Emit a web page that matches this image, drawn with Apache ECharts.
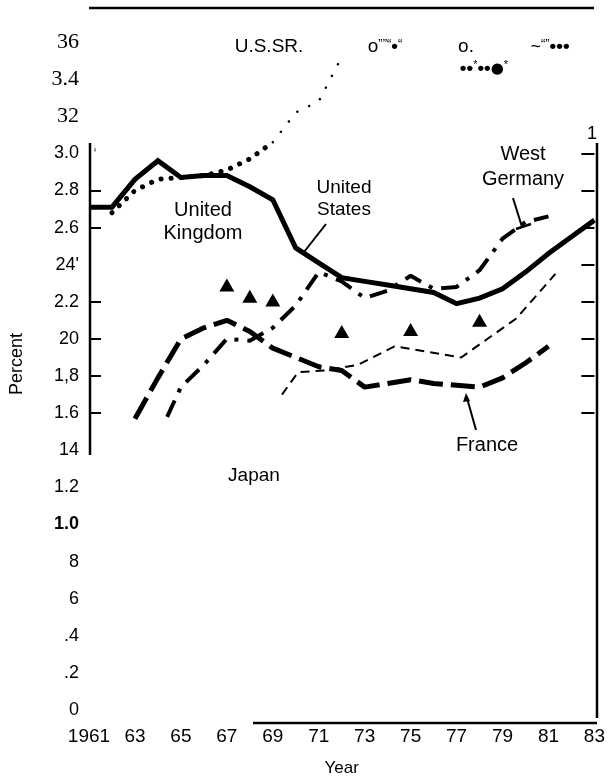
<!DOCTYPE html>
<html>
<head>
<meta charset="utf-8">
<script src="https://cdn.jsdelivr.net/npm/echarts@6/dist/echarts.min.js"></script>
<style>
html, body { margin: 0; padding: 0; background: #fff; }
#main { width: 608px; height: 782px; }
</style>
</head>
<body>
<div id="main"></div>
<script>
// data (percent)
var years = [1961, 1962, 1963, 1964, 1965, 1966, 1967, 1968, 1969, 1970, 1971, 1972,
             1973, 1974, 1975, 1976, 1977, 1978, 1979, 1980, 1981, 1982, 1983];
var usValues = [2.71, 2.71, 2.86, 2.96, 2.87, 2.88, 2.88, 2.82, 2.75, 2.49, 2.41, 2.33,
                2.31, 2.29, 2.27, 2.25, 2.19, 2.22, 2.27, 2.36, 2.46, 2.55, 2.64];

// USSR: heavy dots up to 1969, faint dots after that (scan quality)
var ussrYears = [1962, 1963, 1964, 1965, 1966, 1967, 1968, 1969];
var ussrValues = [2.68, 2.80, 2.86, 2.87, 2.88, 2.91, 2.97, 3.06];
var ussrFaintYears = [1969, 1970, 1971, 1972];
var ussrFaintValues = [3.06, 3.22, 3.28, 3.52];

var germanyYears = [1964.4, 1965, 1966, 1967, 1968, 1969, 1970, 1971, 1972, 1973,
                    1974, 1975, 1976, 1977, 1978, 1979, 1980, 1981];
var germanyValues = [1.58, 1.74, 1.86, 2.00, 1.99, 2.06, 2.18, 2.36, 2.31, 2.22,
                     2.26, 2.34, 2.27, 2.28, 2.37, 2.54, 2.63, 2.66];

var franceYears = [1963, 1964, 1965, 1966, 1967, 1968, 1969, 1970, 1971, 1972,
                   1973, 1974, 1975, 1976, 1977, 1978, 1979, 1980, 1981];
var franceValues = [1.57, 1.79, 2.00, 2.06, 2.10, 2.04, 1.95, 1.90, 1.85, 1.83,
                    1.74, 1.76, 1.78, 1.76, 1.75, 1.74, 1.79, 1.87, 1.96];

var japanYears = [1969.4, 1970.1, 1971.3, 1972.7, 1974.3, 1977.2, 1979.6, 1981.3];
var japanValues = [1.70, 1.82, 1.83, 1.86, 1.96, 1.90, 2.11, 2.35];

var ukYears = [1967, 1968, 1969, 1972, 1975, 1978];
var ukValues = [2.29, 2.23, 2.21, 2.04, 2.05, 2.10];

// triangles that came out of the scan as the letter "A"
var ukGlyphYears = [1964, 1966.7];
var ukGlyphValues = [2.29, 2.10];

var xTickValues = [1961, 1963, 1965, 1967, 1969, 1971, 1973, 1975, 1977, 1979, 1981, 1983];
var xTickLabels = ['1961', '63', '65', '67', '69', '71', '73', '75', '77', '79', '81', '83'];
var yTickLabels = ['0', '.2', '.4', '6', '8', '1.0', '1.2', '14', '1.6', '1,8', '20',
                   '2.2', '24\'', '2.6', '2.8', '3.0', '32', '3.4', '36'];
var leftTickValues = [1.6, 1.8, 2.0, 2.2, 2.6, 2.8];
var rightTickValues = [1.6, 1.8, 2.0, 2.2, 2.4, 2.6, 2.8, 3.0];

var FONT = '"Liberation Sans", Arial, sans-serif';

function pairs(xs, ys) {
    return xs.map(function (x, i) { return [x, ys[i]]; });
}

function txt(text, x, y, size, extra) {
    var style = { text: text, x: x, y: y, align: 'center', verticalAlign: 'middle', font: size + 'px ' + FONT, fill: '#000' };
    for (var k in extra) style[k] = extra[k];
    return { type: 'text', style: style };
}

function rule(x1, y1, x2, y2, w) {
    return { type: 'line', shape: { x1: x1, y1: y1, x2: x2, y2: y2 }, style: { stroke: '#000', lineWidth: w } };
}

var dom = document.getElementById('main');
var myChart = echarts.init(dom);

var glyphRich = {
    o: { font: '19px ' + FONT, fill: '#000' },
    q: { font: '13px ' + FONT, fill: '#000', verticalAlign: 'top' },
    d: { font: 'bold 19px ' + FONT, fill: '#000' },
    D: { font: '15px "DejaVu Sans", sans-serif', fill: '#000' },
    s: { font: '11px ' + FONT, fill: '#000', verticalAlign: 'top' }
};

var option = {
    backgroundColor: '#ffffff',
    animation: false,
    grid: { left: 89, right: 11, top: 42, bottom: 65 },
    xAxis: {
        type: 'value',
        min: 1961,
        max: 1983,
        axisLine: { show: false },
        axisTick: { show: false },
        splitLine: { show: false },
        axisLabel: {
            customValues: xTickValues,
            formatter: function (v) { return xTickLabels[xTickValues.indexOf(v)]; },
            color: '#000',
            fontSize: 19,
            fontFamily: FONT,
            margin: 17
        },
        name: 'Year',
        nameLocation: 'middle',
        nameGap: 50,
        nameTextStyle: { color: '#000', fontSize: 17, fontFamily: FONT }
    },
    yAxis: [
        {
            type: 'value',
            min: 0,
            max: 3.6,
            interval: 0.2,
            position: 'left',
            axisLine: { show: false },
            splitLine: { show: false },
            axisTick: {
                show: true,
                inside: true,
                length: 12,
                customValues: leftTickValues,
                lineStyle: { color: '#000', width: 2 }
            },
            axisLabel: {
                color: '#000',
                fontSize: 18,
                fontFamily: FONT,
                margin: 10,
                formatter: function (v) {
                    var s = yTickLabels[Math.round(v / 0.2)];
                    if (s === '36' || s === '3.4' || s === '32') return '{serif|' + s + '}';
                    if (s === '1.0') return '{bold|' + s + '}';
                    return s;
                },
                rich: {
                    serif: { fontFamily: '"Liberation Serif", "DejaVu Serif", serif', fontSize: 22, color: '#000' },
                    bold: { fontFamily: FONT, fontSize: 18, fontWeight: 'bold', color: '#000' }
                }
            }
        },
        {
            type: 'value',
            min: 0,
            max: 3.6,
            interval: 0.2,
            position: 'right',
            axisLine: { show: false },
            splitLine: { show: false },
            axisLabel: { show: false },
            axisTick: {
                show: true,
                inside: true,
                length: 13,
                customValues: rightTickValues,
                lineStyle: { color: '#000', width: 2 }
            }
        }
    ],
    series: [
        {
            name: 'U.S.S.R.',
            type: 'line',
            data: pairs(ussrYears, ussrValues),
            showSymbol: false,
            lineStyle: { color: '#000', width: 5, type: [0.1, 10], cap: 'round' },
            z: 3
        },
        {
            name: 'U.S.S.R. (faint)',
            type: 'line',
            data: pairs(ussrFaintYears, ussrFaintValues),
            showSymbol: false,
            lineStyle: { color: '#000', width: 2.5, type: [0.1, 13], cap: 'round' },
            z: 3
        },
        {
            name: 'United States',
            type: 'line',
            data: pairs(years, usValues),
            showSymbol: false,
            lineStyle: { color: '#000', width: 5, join: 'miter' },
            z: 4
        },
        {
            name: 'West Germany',
            type: 'line',
            data: pairs(germanyYears, germanyValues),
            showSymbol: false,
            lineStyle: { color: '#000', width: 4, type: [18, 9, 4, 9] },
            z: 3
        },
        {
            name: 'France',
            type: 'line',
            data: pairs(franceYears, franceValues),
            showSymbol: false,
            lineStyle: { color: '#000', width: 5, type: [24, 8] },
            z: 3
        },
        {
            name: 'Japan',
            type: 'line',
            data: pairs(japanYears, japanValues),
            showSymbol: false,
            lineStyle: { color: '#000', width: 2, type: [9, 6] },
            z: 3
        },
        {
            name: 'United Kingdom',
            type: 'scatter',
            data: pairs(ukYears, ukValues),
            symbol: 'triangle',
            symbolSize: [15, 13],
            itemStyle: { color: '#000', opacity: 1 },
            z: 5
        },
        {
            name: 'United Kingdom (scan)',
            type: 'scatter',
            data: pairs(ukGlyphYears, ukGlyphValues),
            symbolSize: 1,
            itemStyle: { opacity: 0 },
            label: {
                show: true,
                position: 'inside',
                formatter: 'A',
                color: '#000',
                fontSize: 20,
                fontFamily: FONT
            },
            z: 5
        }
    ],
    graphic: [
        // frame rules left over from the printed page
        rule(89, 8, 594, 8, 2.5),
        rule(90, 143, 90, 455, 2.5),
        rule(597, 143, 597, 718, 2.5),
        rule(253, 723, 597, 723, 2.5),
        // axis title
        { type: 'text', x: 17, y: 364, rotation: Math.PI / 2,
          style: { text: 'Percent', x: 0, y: 0, align: 'center', verticalAlign: 'middle', font: '18px ' + FONT, fill: '#000' } },
        // labels and pointers
        txt('U.S.SR.', 269, 47, 19),
        txt('United\nKingdom', 203, 222, 20, { lineHeight: 23 }),
        txt('United\nStates', 344, 199, 19, { lineHeight: 22 }),
        txt('West\nGermany', 523, 167, 20, { lineHeight: 25 }),
        txt('France', 487, 445, 20),
        txt('Japan', 254, 476, 19),
        txt('1', 592, 134, 18),
        txt('\u2018', 95, 154, 12),
        // scan residue of the USSR dots near the top
        txt('{o|o}{q|\u201D\u201D\u201C}{d|\u2022}{q|\u201C}', 385, 47, 19, { rich: glyphRich }),
        txt('o.', 466, 47, 19),
        txt('{d|\u2022\u2022}{s|*}{d|\u2022\u2022}{D|\u25CF}{s|*}', 484, 69, 13, { rich: glyphRich }),
        txt('~{q|\u201C\u201D}{d|\u2022\u2022\u2022}', 550, 47, 18, { rich: glyphRich }),
        rule(326, 224, 304, 252, 2),
        rule(513, 198, 522, 227, 2),
        rule(516, 229, 531, 224, 2.5),
        rule(476, 430, 467, 398, 2),
        { type: 'polygon', shape: { points: [[466, 393], [463, 402], [470, 401]] }, style: { fill: '#000' } }
    ]
};

if (option && typeof option === 'object') {
    myChart.setOption(option, true);
}
</script>
</body>
</html>
